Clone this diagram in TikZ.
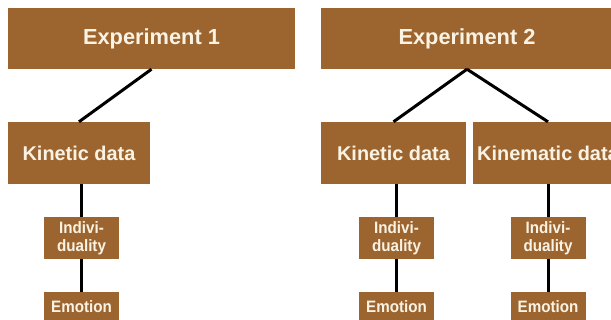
\documentclass[tikz,border=0pt]{standalone}
\usepackage{fontspec}
\setmainfont{Liberation Sans}
\newfontfamily\narrowsans[FakeStretch=0.92]{Liberation Sans}
\usetikzlibrary{positioning,calc}
\definecolor{boxbrown}{RGB}{156,101,48}
\definecolor{boxtext}{RGB}{250,243,228}
\tikzstyle{expbox} = [rectangle, fill=boxbrown, text=boxtext, inner sep=0pt,
  minimum height=61pt, font=\bfseries\fontsize{21.8}{24}\selectfont]
\tikzstyle{databox} = [rectangle, fill=boxbrown, text=boxtext, inner sep=0pt,
  minimum height=62pt, font=\bfseries\fontsize{19.9}{22}\selectfont]
\tikzstyle{smallbox} = [rectangle, fill=boxbrown, text=boxtext, inner sep=0pt,
  minimum width=75pt, align=center, font=\narrowsans\bfseries\fontsize{16.5}{18.5}\selectfont]
\tikzstyle{line} = [draw, line width=3pt, black]

\begin{document}
\begin{tikzpicture}[x=1pt, y=-1pt]
\useasboundingbox (0,0) rectangle (611,320);
\clip (0,0) rectangle (611,320);

% ==========================================
% EXPERIMENTS (top row)
% ==========================================
\node[expbox, minimum width=287pt] (exp1) at (151.5,38.5) {Experiment 1};
\node[expbox, minimum width=292pt] (exp2) at (467,38.5) {Experiment 2};

% ==========================================
% DATA (second row)
% ==========================================
\node[databox, minimum width=142pt] (kin1)  at (79,153)    {Kinetic data};
\node[databox, minimum width=145pt] (kin2)  at (393.5,153) {Kinetic data};
\node[databox, minimum width=150pt] (kinem) at (548,153)   {Kinematic data};
\draw[line] (exp1.south) -- (kin1.north);
\draw[line] (exp2.south) -- (kin2.north);
\draw[line] (exp2.south) -- (kinem.north);

% ==========================================
% INDIVIDUALITY + EMOTION (lower rows)
% ==========================================
\node[smallbox, minimum height=42pt] (ind1) at (81.5,238)  {Indivi-\\duality};
\node[smallbox, minimum height=42pt] (ind2) at (396.5,238) {Indivi-\\duality};
\node[smallbox, minimum height=42pt] (ind3) at (548,238)   {Indivi-\\duality};
\node[smallbox, minimum height=30pt] (emo1) at (81.5,307)  {Emotion};
\node[smallbox, minimum height=30pt] (emo2) at (396.5,307) {Emotion};
\node[smallbox, minimum height=30pt] (emo3) at (548,307)   {Emotion};
\foreach \d/\i/\e in {kin1/ind1/emo1,kin2/ind2/emo2,kinem/ind3/emo3}
  { \draw[line] (\i.north) -- (\i.north |- \d.south);
    \draw[line] (\i.south) -- (\e.north); }

\end{tikzpicture}
\end{document}
